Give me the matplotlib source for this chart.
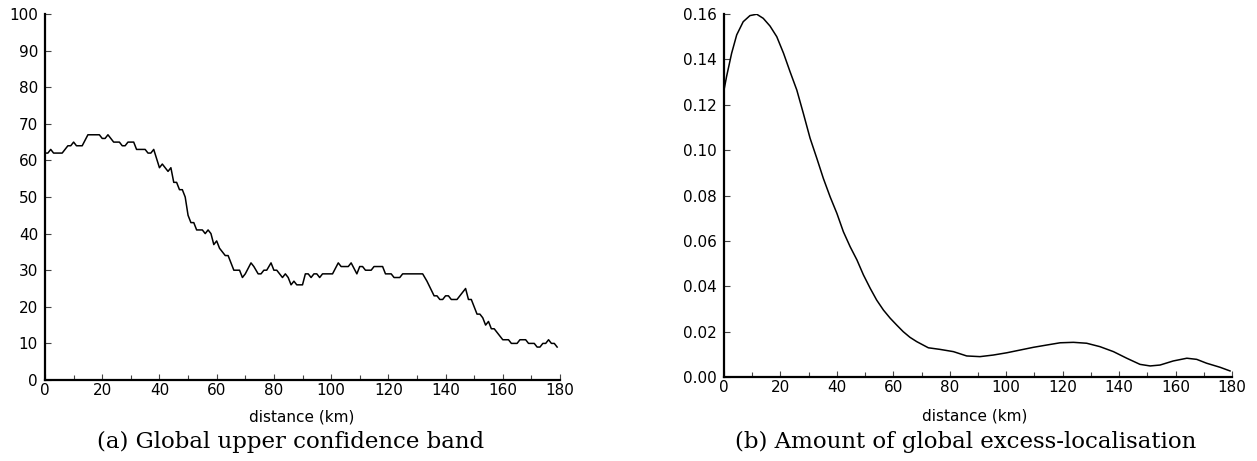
import matplotlib
matplotlib.use("Agg")
import matplotlib.pyplot as plt
from matplotlib.ticker import MultipleLocator

# (a) global upper confidence band
dist_a = [0, 1, 2, 3, 6, 8, 9, 10, 11, 13, 15, 19, 20, 21, 22, 24, 26, 27, 28, 29,
          31, 32, 35, 36, 37, 38, 40, 41, 43, 44, 45, 46, 47, 48, 49, 50, 51, 52, 53, 55,
          56, 57, 58, 59, 60, 61, 62, 63, 64, 65, 66, 68, 69, 70, 72, 73, 74.5, 75.5, 76.5, 77.5,
          79, 80, 81, 82, 83, 84, 85, 86, 87, 88, 90, 91, 92, 93, 94, 95, 96, 97, 100.5, 102.5,
          103.5, 106, 107, 109, 110, 111, 112, 114, 115, 118, 119, 121, 122, 124, 125, 132, 133.5, 136, 137, 138,
          139, 140, 141, 142, 144, 147, 148, 149, 151, 152, 153, 154, 155, 156, 157, 158, 160, 162, 163, 165,
          166, 168, 169, 171, 172, 173, 174, 175, 176, 177, 178, 179]
band_a = [62, 62, 63, 62, 62, 64, 64, 65, 64, 64, 67, 67, 66, 66, 67, 65, 65, 64, 64, 65,
          65, 63, 63, 62, 62, 63, 58, 59, 57, 58, 54, 54, 52, 52, 50, 45, 43, 43, 41, 41,
          40, 41, 40, 37, 38, 36, 35, 34, 34, 32, 30, 30, 28, 29, 32, 31, 29, 29, 30, 30,
          32, 30, 30, 29, 28, 29, 28, 26, 27, 26, 26, 29, 29, 28, 29, 29, 28, 29, 29, 32,
          31, 31, 32, 29, 31, 31, 30, 30, 31, 31, 29, 29, 28, 28, 29, 29, 27, 23, 23, 22,
          22, 23, 23, 22, 22, 25, 22, 22, 18, 18, 17, 15, 16, 14, 14, 13, 11, 11, 10, 10,
          11, 11, 10, 10, 9, 9, 10, 10, 11, 10, 10, 9]

# (b) amount of global excess-localisation
dist_b = [0, 0.9, 2.7, 4.5, 6.8, 9.2, 11.6, 13.9, 16.3, 18.7, 21.1, 23.4, 25.8, 28.1, 30.5,
          32.9, 35.2, 37.6, 40, 42.3, 44.7, 47.1, 49.4, 51.8, 54.1, 56.5, 58.9, 61.2, 63.5, 65.9,
          68.3, 72.4, 76.5, 81.3, 86, 90.7, 95.4, 100.2, 104.9, 109.6, 114.3, 119.1, 123.8, 128.5,
          133.2, 138, 142.7, 147.4, 151, 154.5, 159.2, 164, 167.5, 171, 175.8, 179.3]
excess_b = [0.1265, 0.1324, 0.1427, 0.1508, 0.1566, 0.1593, 0.1599, 0.1581, 0.1547, 0.150,
            0.1427, 0.1346, 0.1265, 0.1163, 0.1053, 0.0964, 0.0876, 0.0795, 0.0722, 0.0641,
            0.0575, 0.0517, 0.0451, 0.0392, 0.0340, 0.0296, 0.0260, 0.0230, 0.0201, 0.0176,
            0.0157, 0.0130, 0.0123, 0.0113, 0.0094, 0.0091, 0.0098, 0.0108, 0.0120, 0.0132,
            0.0142, 0.0152, 0.0154, 0.0150, 0.0135, 0.0113, 0.0084, 0.0057, 0.0050, 0.0054,
            0.0072, 0.0084, 0.0079, 0.0062, 0.0044, 0.0028]

W, H = 1257, 461
fig = plt.figure(figsize=(W / 100, H / 100), dpi=100)

# axes boxes in pixels: left, right, top, bottom
ax_a = fig.add_axes([45 / W, 1 - 380 / H, (560 - 45) / W, (380 - 14) / H])
ax_b = fig.add_axes([724 / W, 1 - 377.3 / H, (1232 - 724) / W, (377.3 - 14) / H])


def style(ax):
    for s in ["top", "right"]:
        ax.spines[s].set_visible(False)
    for s in ["left", "bottom"]:
        ax.spines[s].set_linewidth(1.6)
    ax.tick_params(direction="in", length=4, width=0.8, labelsize=11, color="#444444")
    ax.tick_params(axis="x", which="both", pad=2)
    ax.tick_params(axis="y", pad=5)
    ax.tick_params(axis="x", which="minor", direction="in", length=3.5, width=0.8, color="#444444")
    ax.set_xlim(0, 180)
    ax.xaxis.set_major_locator(MultipleLocator(20))
    ax.xaxis.set_minor_locator(MultipleLocator(10))


ax_a.plot(dist_a, band_a, color="black", lw=1.1)
style(ax_a)
ax_a.set_ylim(0, 100)
ax_a.yaxis.set_major_locator(MultipleLocator(10))

ax_b.plot(dist_b, excess_b, color="black", lw=1.1)
style(ax_b)
ax_b.set_ylim(0, 0.16)
ax_b.yaxis.set_major_locator(MultipleLocator(0.02))
ax_b.yaxis.set_major_formatter(plt.FormatStrFormatter("%.2f"))

# axis labels and captions
fig.text(302 / W, 1 - 417 / H, "distance (km)", ha="center", va="center", fontsize=11)
fig.text(975 / W, 1 - 416 / H, "distance (km)", ha="center", va="center", fontsize=11)
fig.text(291 / W, 1 - 442 / H, "(a) Global upper confidence band", ha="center", va="center",
         fontsize=16.5, family="DejaVu Serif")
fig.text(966 / W, 1 - 442 / H, "(b) Amount of global excess-localisation", ha="center", va="center",
         fontsize=16.5, family="DejaVu Serif")

fig.savefig("out.png", dpi=100)
